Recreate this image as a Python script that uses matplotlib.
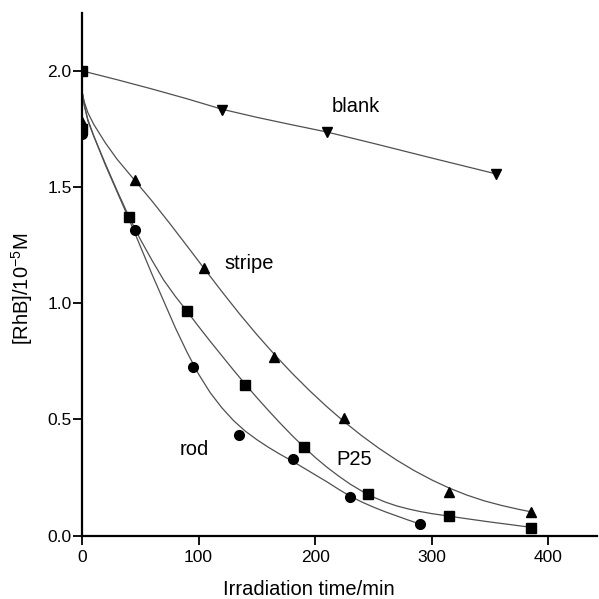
import matplotlib
matplotlib.use('Agg')
import matplotlib.pyplot as plt

plt.rcParams['font.family'] = ['Liberation Sans', 'DejaVu Sans']
plt.rcParams['mathtext.fontset'] = 'custom'
plt.rcParams['mathtext.rm'] = 'Liberation Sans'
plt.rcParams['mathtext.it'] = 'Liberation Sans'

# measured points
blank_x = [0, 120, 210, 355]
blank_y = [2.00, 1.83, 1.737, 1.558]
stripe_x = [0, 45, 105, 165, 225, 315, 385]
stripe_y = [1.78, 1.53, 1.152, 0.77, 0.505, 0.187, 0.10]
p25_x = [0, 40, 90, 140, 190, 245, 315, 385]
p25_y = [1.75, 1.372, 0.966, 0.648, 0.383, 0.178, 0.085, 0.034]
rod_x = [0, 45, 95, 135, 181, 230, 290]
rod_y = [1.73, 1.317, 0.724, 0.433, 0.33, 0.168, 0.05]

# fitted curves
blank_fit_x = [0, 30, 60, 90, 120, 150, 180, 210, 250, 300, 355]
blank_fit_y = [2.00, 1.962, 1.922, 1.88, 1.835, 1.80, 1.768, 1.737, 1.688, 1.625, 1.557]
stripe_fit_x = [0, 2, 5, 10, 20, 30, 45, 60, 75, 90, 105, 120, 135, 150, 165, 180,
                195, 210, 225, 240, 255, 270, 285, 300, 315, 330, 345, 360, 375, 385]
stripe_fit_y = [1.91, 1.865, 1.82, 1.77, 1.69, 1.62, 1.53, 1.44, 1.345, 1.247, 1.148, 1.05,
                0.955, 0.865, 0.78, 0.70, 0.625, 0.555, 0.49, 0.43, 0.375, 0.325, 0.28,
                0.24, 0.205, 0.175, 0.15, 0.13, 0.113, 0.103]
p25_fit_x = [0, 2, 5, 10, 20, 30, 40, 50, 60, 70, 80, 90, 100, 110, 120, 130, 140, 150,
             160, 170, 180, 190, 200, 210, 220, 230, 240, 250, 260, 270, 280, 290, 300,
             315, 330, 350, 370, 385]
p25_fit_y = [1.91, 1.85, 1.79, 1.72, 1.60, 1.485, 1.375, 1.275, 1.185, 1.10, 1.03, 0.966,
             0.90, 0.836, 0.774, 0.712, 0.652, 0.594, 0.538, 0.484, 0.432, 0.383, 0.337,
             0.295, 0.257, 0.222, 0.192, 0.166, 0.145, 0.128, 0.115, 0.104, 0.095,
             0.084, 0.073, 0.059, 0.046, 0.036]
rod_fit_x = [0, 2, 5, 10, 20, 30, 40, 50, 60, 70, 80, 90, 100, 110, 120, 130, 140, 150,
             160, 170, 180, 190, 200, 210, 220, 230, 240, 250, 260, 270, 280, 290]
rod_fit_y = [1.91, 1.85, 1.785, 1.72, 1.595, 1.48, 1.365, 1.245, 1.125, 1.01, 0.895, 0.79,
             0.695, 0.615, 0.55, 0.495, 0.45, 0.413, 0.38, 0.35, 0.322, 0.292, 0.262,
             0.232, 0.2, 0.17, 0.145, 0.123, 0.103, 0.085, 0.067, 0.05]

labels = ['blank', 'stripe', 'rod', 'P25']
label_x = [214, 122, 84, 218]
label_y = [1.823, 1.147, 0.347, 0.304]

fig = plt.figure(figsize=(5.99, 5.99), dpi=100)
ax = fig.add_axes([0.137, 0.1057, 0.86, 0.873])

lc = '#505050'
ax.plot(blank_fit_x, blank_fit_y, color=lc, lw=0.9)
ax.plot(stripe_fit_x, stripe_fit_y, color=lc, lw=0.9)
ax.plot(p25_fit_x, p25_fit_y, color=lc, lw=0.9)
ax.plot(rod_fit_x, rod_fit_y, color=lc, lw=0.9)

ax.plot(blank_x[:1], blank_y[:1], 's', color='k', ms=6.5)
ax.plot(blank_x[1:], blank_y[1:], 'v', color='k', ms=7.5)
ax.plot(stripe_x, stripe_y, '^', color='k', ms=7.5)
ax.plot(p25_x, p25_y, 's', color='k', ms=6.5)
ax.plot(rod_x, rod_y, 'o', color='k', ms=7)

for t, x, y in zip(labels, label_x, label_y):
    ax.text(x, y, t, fontsize=14.5, ha='left', va='baseline')

ax.set_xlim(0, 442)
ax.set_ylim(0, 2.25)
ax.set_xticks([0, 100, 200, 300, 400])
ax.set_yticks([0.0, 0.5, 1.0, 1.5, 2.0])
ax.set_yticklabels(['0.0', '0.5', '1.0', '1.5', '2.0'])
for s in ['top', 'right']:
    ax.spines[s].set_visible(False)
for s in ['left', 'bottom']:
    ax.spines[s].set_linewidth(1.6)
ax.tick_params(width=1.3, length=6.5, labelsize=12.5, color='k')
ax.tick_params(axis='y', pad=1)
ax.tick_params(axis='x', pad=4)

ax.set_xlabel('Irradiation time/min', fontsize=14.5)
ax.set_ylabel('[RhB]/10$^{\\mathrm{-5}}$M', fontsize=14.5)
ax.xaxis.set_label_coords(0.44, -0.085)
ax.yaxis.set_label_coords(-0.092, 0.472)

fig.savefig('out.png', dpi=100)
